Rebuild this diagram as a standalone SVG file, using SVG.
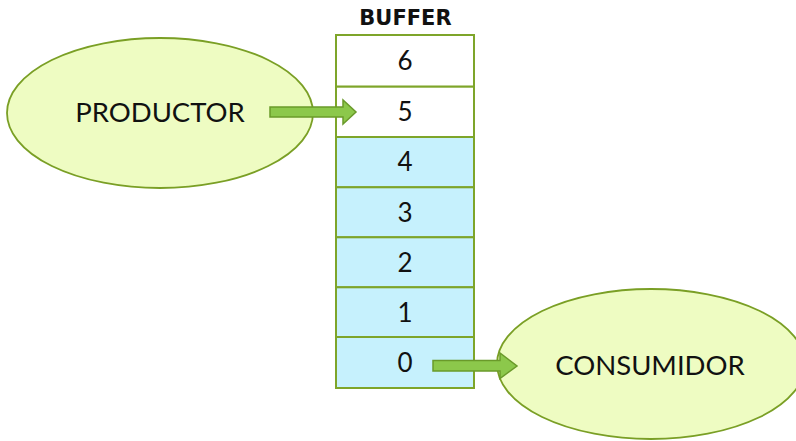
<svg xmlns="http://www.w3.org/2000/svg" width="796" height="441" viewBox="0 0 796 441">
<style>
.ell{fill:#eefcc2;stroke:#7a9f25;stroke-width:1.8}
.cell{stroke:#7ea52a;stroke-width:2}
.w{fill:#ffffff}
.b{fill:#c6f1fd}
.num{font-family:Lato,"Open Sans",sans-serif;font-size:26px;fill:#111;text-anchor:middle}
.lbl{font-family:Lato,"Open Sans",sans-serif;font-size:27.5px;fill:#111;text-anchor:middle}
.arr{fill:#8cc84b;stroke:#6a9a2a;stroke-width:1.5}
</style>
<rect width="796" height="441" fill="#ffffff"/>
<g id="buffer">
<text x="405.5" y="25" font-family="'DejaVu Sans',sans-serif" font-weight="bold" font-size="21" text-anchor="middle" fill="#111">BUFFER</text>
<g id="cell6"><rect class="cell w" x="336" y="35" width="138" height="51.7"/><text class="num" x="405" y="70">6</text></g>
<g id="cell5"><rect class="cell w" x="336" y="86.7" width="138" height="50.3"/><text class="num" x="405" y="121">5</text></g>
<g id="cell4"><rect class="cell b" x="336" y="137" width="138" height="50.3"/><text class="num" x="405" y="171">4</text></g>
<g id="cell3"><rect class="cell b" x="336" y="187.3" width="138" height="50"/><text class="num" x="405" y="222">3</text></g>
<g id="cell2"><rect class="cell b" x="336" y="237.3" width="138" height="50"/><text class="num" x="405" y="272">2</text></g>
<g id="cell1"><rect class="cell b" x="336" y="287.3" width="138" height="49.7"/><text class="num" x="405" y="322">1</text></g>
<g id="cell0"><rect class="cell b" x="336" y="337" width="138" height="51"/><text class="num" x="405" y="372">0</text></g>
</g>
<g id="productor">
<ellipse class="ell" cx="160" cy="113" rx="153" ry="75"/>
<text class="lbl" x="160" y="122">PRODUCTOR</text>
</g>
<g id="consumidor">
<ellipse class="ell" cx="651" cy="364" rx="154" ry="75"/>
<text class="lbl" x="650" y="375">CONSUMIDOR</text>
</g>
<g id="connectors">
<path class="arr" d="M270,107 H343 V100 L356,112 L343,124 V117 H270 Z"/>
<path class="arr" d="M433,360.5 H500 V353 L517,366 L500,378.5 V371 H433 Z"/>
</g>
</svg>
